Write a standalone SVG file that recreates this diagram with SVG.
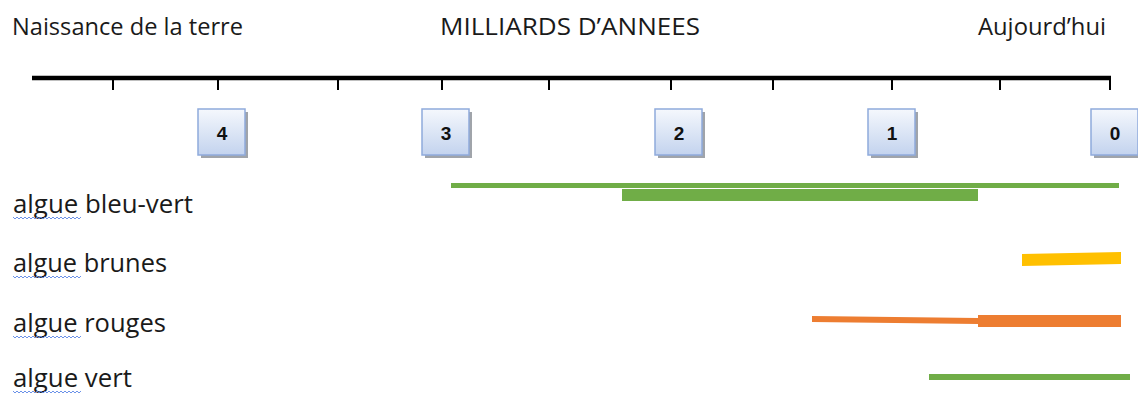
<svg xmlns="http://www.w3.org/2000/svg" width="1138" height="394" viewBox="0 0 1138 394">
<defs>
<linearGradient id="boxg" x1="0" y1="0" x2="0" y2="1">
<stop offset="0" stop-color="#F5F8FD"/>
<stop offset="1" stop-color="#C3D3EE"/>
</linearGradient>
<path id="squig" d="M0,0 l2,2 l2,-2 l2,2 l2,-2 l2,2 l2,-2 l2,2 l2,-2 l2,2 l2,-2 l2,2 l2,-2 l2,2 l2,-2 l2,2 l2,-2 l2,2 l2,-2 l2,2 l2,-2 l2,2 l2,-2 l2,2 l2,-2 l2,2 l2,-2 l2,2 l2,-2 l2,2 l2,-2 l2,2 l2,-2 l2,2 l2,-2"/>
</defs>
<style>
.t{font-family:"Open Sans","Liberation Sans",sans-serif;fill:#1a1a1a}
.h{font-size:23.5px}
.r{font-size:26px}
.n{font-family:"Liberation Sans",Arial,sans-serif;font-size:19px;font-weight:bold;fill:#111;text-anchor:middle}
.box{fill:url(#boxg);stroke:#8FAADC;stroke-width:1.5}
.sh{fill:#A0A4AA}
.tick{stroke:#000;stroke-width:2}
.sq{fill:none;stroke:#5B86E5;stroke-width:0.9}
.green{fill:#70AD47}
.yellow{fill:#FFC000}
.orange{fill:#ED7D31}
</style>
<rect width="1138" height="394" fill="#fff"/>

<g id="titles">
<text class="t h" x="12" y="35" textLength="231" lengthAdjust="spacingAndGlyphs">Naissance de la terre</text>
<text class="t h" x="440" y="35" textLength="260" lengthAdjust="spacingAndGlyphs">MILLIARDS D’ANNEES</text>
<text class="t h" x="978" y="35" textLength="128" lengthAdjust="spacingAndGlyphs">Aujourd’hui</text>
</g>

<g id="axis">
<line x1="32" y1="78" x2="1111" y2="78" stroke="#000" stroke-width="4.5"/>
<line class="tick" x1="113" y1="78" x2="113" y2="90"/>
<line class="tick" x1="218" y1="78" x2="218" y2="90"/>
<line class="tick" x1="338" y1="78" x2="338" y2="90"/>
<line class="tick" x1="442" y1="78" x2="442" y2="90"/>
<line class="tick" x1="549" y1="78" x2="549" y2="90"/>
<line class="tick" x1="671" y1="78" x2="671" y2="90"/>
<line class="tick" x1="773" y1="78" x2="773" y2="90"/>
<line class="tick" x1="892" y1="78" x2="892" y2="90"/>
<line class="tick" x1="1000" y1="78" x2="1000" y2="90"/>
<line class="tick" x1="1110" y1="76" x2="1110" y2="90"/>
</g>

<g id="box4"><rect class="sh" x="201" y="112" width="47" height="46"/><rect class="box" x="198" y="109" width="47" height="46"/><text class="n" x="222" y="140">4</text></g>
<g id="box3"><rect class="sh" x="425" y="112" width="47" height="46"/><rect class="box" x="422" y="109" width="47" height="46"/><text class="n" x="446" y="140">3</text></g>
<g id="box2"><rect class="sh" x="658" y="112" width="47" height="46"/><rect class="box" x="655" y="109" width="47" height="46"/><text class="n" x="679" y="140">2</text></g>
<g id="box1"><rect class="sh" x="871" y="112" width="47" height="46"/><rect class="box" x="868" y="109" width="47" height="46"/><text class="n" x="892" y="140">1</text></g>
<g id="box0"><rect class="sh" x="1094" y="112" width="47" height="46"/><rect class="box" x="1091" y="109" width="47" height="46"/><text class="n" x="1115" y="140">0</text></g>

<g id="labels">
<text class="t r" x="13" y="213" textLength="180" lengthAdjust="spacingAndGlyphs">algue bleu-vert</text>
<text class="t r" x="13" y="272" textLength="154" lengthAdjust="spacingAndGlyphs">algue brunes</text>
<text class="t r" x="13" y="332" textLength="153" lengthAdjust="spacingAndGlyphs">algue rouges</text>
<text class="t r" x="13" y="387" textLength="119" lengthAdjust="spacingAndGlyphs">algue vert</text>
<use href="#squig" class="sq" x="13" y="217"/>
<use href="#squig" class="sq" x="13" y="276"/>
<use href="#squig" class="sq" x="13" y="336"/>
<use href="#squig" class="sq" x="13" y="391"/>
</g>

<g id="bars">
<rect class="green" x="451" y="183" width="668" height="5"/>
<rect class="green" x="622" y="189" width="356" height="12"/>
<polygon class="yellow" points="1022,254 1121,252 1121,264 1022,266"/>
<polygon class="orange" points="812,316 978,318 978,324 812,322"/>
<rect class="orange" x="978" y="315" width="143" height="12"/>
<rect class="green" x="929" y="374" width="201" height="6"/>
</g>
</svg>
